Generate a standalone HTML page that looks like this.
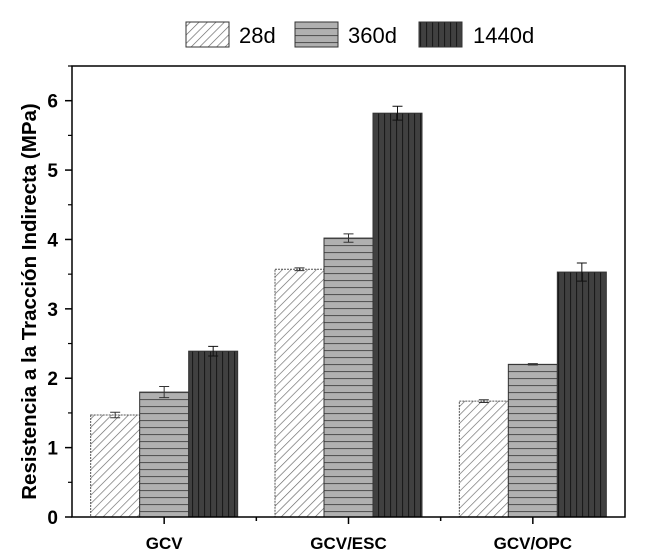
<!DOCTYPE html>
<html><head><meta charset="utf-8"><style>
body{margin:0;background:#fff;}
svg{font-family:"Liberation Sans",sans-serif;}
</style></head><body>
<svg id="c" width="650" height="554" viewBox="0 0 650 554">
<defs>
<pattern id="p28" width="6" height="6" patternUnits="userSpaceOnUse" patternTransform="rotate(45)"><rect width="6" height="6" fill="#fff"/><line x1="0" y1="0" x2="0" y2="6" stroke="#666" stroke-width="1.3"/></pattern>
<pattern id="p360" width="6" height="7" patternUnits="userSpaceOnUse"><rect width="6" height="7" fill="#b0b0b0"/><line x1="0" y1="0.5" x2="6" y2="0.5" stroke="#555" stroke-width="1.2"/></pattern>
<pattern id="p1440" width="6" height="6" patternUnits="userSpaceOnUse"><rect width="6" height="6" fill="#404040"/><line x1="0.5" y1="0" x2="0.5" y2="6" stroke="#1a1a1a" stroke-width="1.2"/></pattern>
</defs>
<g id="plot"></g>
</svg>
<script>
const categories=["GCV","GCV/ESC","GCV/OPC"];
const series=["28d","360d","1440d"];
const v28=[1.47,3.57,1.67];
const v360=[1.80,4.02,2.20];
const v1440=[2.39,5.82,3.53];
const e28=[0.04,0.02,0.02];
const e360=[0.08,0.06,0.01];
const e1440=[0.07,0.10,0.13];
const yTicks=[0,1,2,3,4,5,6];
const NS="http://www.w3.org/2000/svg";
const g=document.getElementById('plot');
const L=72,R=625,T=66,B=517,yMax=6.5;
const y=v=>B-(v/yMax)*(B-T);
const groupW=(R-L)/3;
const cx=i=>L+groupW*(i+0.5);
const bw=49;
function mk(t,a){const e=document.createElementNS(NS,t);for(const k in a)e.setAttribute(k,a[k]);g.appendChild(e);return e;}
const vals=[v28,v360,v1440],errs=[e28,e360,e1440],fills=["url(#p28)","url(#p360)","url(#p1440)"];
categories.forEach((c,i)=>{
 vals.forEach((vs,s)=>{
  const x=cx(i)+(s-1.5)*bw;
  const r=mk('rect',{x:x,y:y(vs[i]),width:bw,height:B-y(vs[i]),fill:fills[s],stroke:s==0?"#555":"#333","stroke-width":1,"stroke-dasharray":s==0?"2,1":"none"});
  
  
  const m=x+bw/2,hi=y(vs[i]+errs[s][i]),lo=y(vs[i]-errs[s][i]);
  const col=s==2?"#111":"#333";
  const eb=mk('path',{d:`M${m},${hi}V${lo}M${m-5},${hi}H${m+5}M${m-5},${lo}H${m+5}`,stroke:col,"stroke-width":1,fill:"none"});
  
  
 });
 const t=mk('text',{x:cx(i),y:549,"text-anchor":"middle","font-size":"17","font-weight":"bold"});t.textContent=c;
 
 
 mk('line',{x1:cx(i),x2:cx(i),y1:B,y2:B+7,stroke:"#000","stroke-width":1.5});
 if(i<2)mk('line',{x1:L+groupW*(i+1),x2:L+groupW*(i+1),y1:B,y2:B+4,stroke:"#000","stroke-width":1.5});
});
const fr=mk('rect',{x:L,y:T,width:R-L,height:B-T,fill:"none",stroke:"#000","stroke-width":1.5});


yTicks.forEach(v=>{
 mk('line',{x1:L-7,x2:L,y1:y(v),y2:y(v),stroke:"#000","stroke-width":1.5});
 mk('line',{x1:L-4,x2:L,y1:y(v+0.5),y2:y(v+0.5),stroke:"#000","stroke-width":1.2});
 const t=mk('text',{x:L-14,y:y(v)+7,"text-anchor":"end","font-size":"19","font-weight":"bold"});t.textContent=v;
 
 
});
const yt=mk('text',{x:0,y:0,transform:`translate(36,${(T+B)/2+10}) rotate(-90)`,"text-anchor":"middle","font-size":"20.5","font-weight":"bold"});
yt.textContent="Resistencia a la Tracción Indirecta (MPa)";


const lx=[186,295,419],tx=[239,348,473];
series.forEach((s,k)=>{
 const r=mk('rect',{x:lx[k],y:22,width:43,height:25,fill:fills[k],stroke:"#333","stroke-width":1});
 
 
 const t=mk('text',{x:tx[k],y:43,"font-size":"22"});t.textContent=s;
 
 
});
</script>
</body></html>
